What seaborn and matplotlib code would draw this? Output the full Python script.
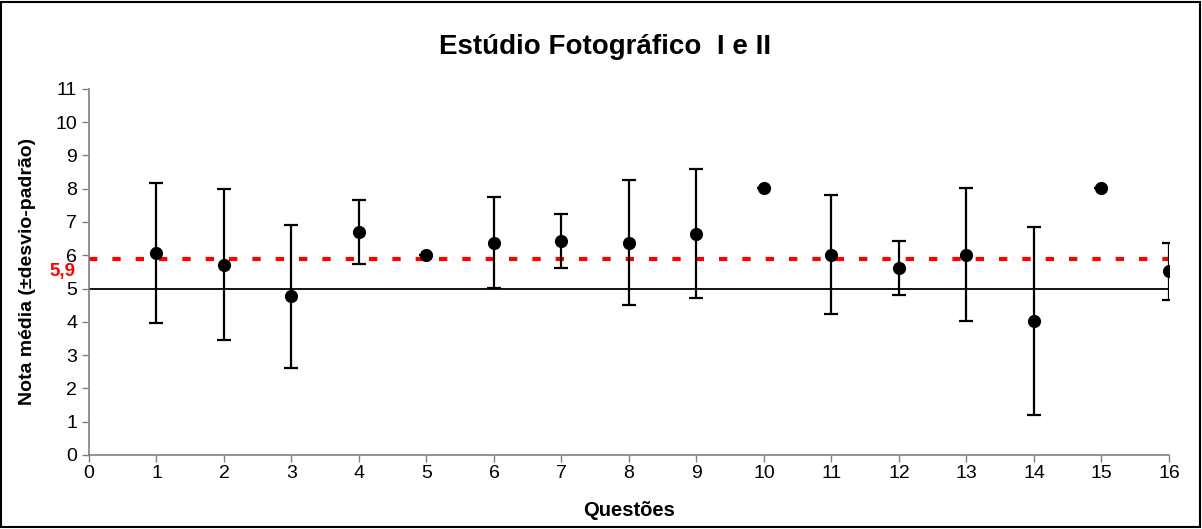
import numpy as np
import pandas as pd
import matplotlib
matplotlib.use("Agg")
import matplotlib.pyplot as plt
import seaborn as sns
from matplotlib.patches import Rectangle

# dados
questoes = list(range(1, 17))
medias = [6.07, 5.72, 4.77, 6.70, 6.02, 6.38, 6.43, 6.38,
          6.65, 8.03, 6.02, 5.62, 6.02, 4.03, 8.03, 5.52]
desvios = [2.10, 2.28, 2.15, 0.95, 0.0, 1.36, 0.80, 1.87,
           1.93, 0.0, 1.78, 0.80, 2.00, 2.83, 0.0, 0.85]
media_geral = 5.88
linha_ref = 5.0
titulo = "Estúdio Fotográfico  I e II"


def main():
    df = pd.DataFrame({"questao": questoes, "media": medias, "dp": desvios})

    sns.set_style("ticks")
    plt.rcParams["font.family"] = ["Liberation Sans", "DejaVu Sans"]
    plt.rcParams["text.color"] = "black"
    plt.rcParams["axes.labelcolor"] = "black"

    fig = plt.figure(figsize=(12.02, 5.29), dpi=100)
    ax = fig.add_axes([0.074, 0.140, 0.8985, 0.692])

    # linhas de referência
    ax.plot([0, 16], [linha_ref, linha_ref], color="black", lw=1.3, zorder=1)
    ax.plot([0, 16], [media_geral, media_geral], color="#ff0000", lw=3.0,
            linestyle=(0, (2.0, 3.6)), zorder=1)

    # barras de erro e pontos
    ax.errorbar(df["questao"], df["media"], yerr=df["dp"], fmt="none",
                ecolor="black", elinewidth=1.6, capsize=5, capthick=1.6, zorder=2)
    sns.scatterplot(data=df, x="questao", y="media", color="black", s=90,
                    edgecolor="black", linewidth=0, zorder=3, ax=ax, legend=False)

    ax.set_xlim(0, 16)
    ax.set_ylim(0, 11)
    ax.set_xticks(range(0, 17))
    ax.set_yticks(range(0, 12))
    ax.tick_params(axis="both", labelsize=14, colors="#808080", labelcolor="black",
                   length=5, width=1)
    ax.tick_params(axis="x", pad=2)
    for s in ["top", "right"]:
        ax.spines[s].set_visible(False)
    for s in ["left", "bottom"]:
        ax.spines[s].set_color("#808080")
        ax.spines[s].set_linewidth(1.2)

    ax.set_xlabel("Questões", fontsize=14.5, fontweight="bold", labelpad=14)
    ax.set_ylabel("Nota média (±desvio-padrão)", fontsize=14, fontweight="bold", labelpad=14)
    fig.text(0.503, 0.912, titulo, fontsize=20, fontweight="bold",
             ha="center", va="center", color="black")

    ax.text(-0.2, 5.5, "5,9", color="#ff0000", fontsize=13.5, fontweight="bold",
            ha="right", va="center", clip_on=False)

    # moldura do gráfico
    fig.patches.append(Rectangle((0.001, 0.004), 0.997, 0.993, transform=fig.transFigure,
                                 fill=False, edgecolor="black", lw=1.5))

    fig.savefig("out.png", dpi=100)
    plt.close(fig)


if __name__ == "__main__":
    main()
